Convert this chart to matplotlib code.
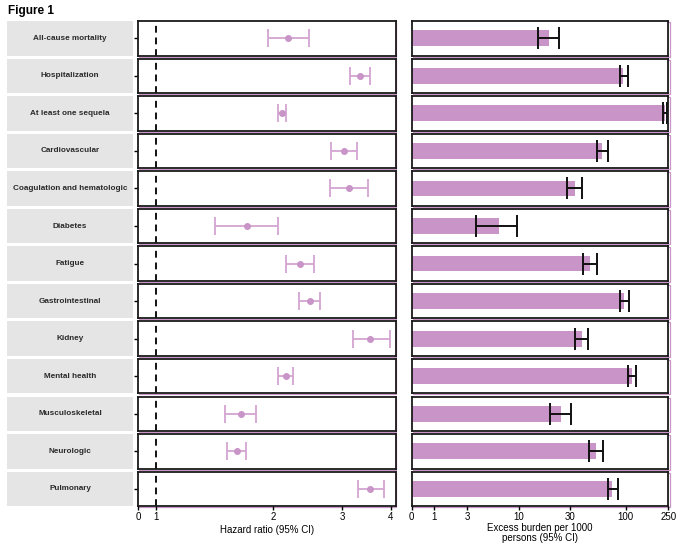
import numpy as np
import matplotlib
matplotlib.use("Agg")
import matplotlib.pyplot as plt
from matplotlib.patches import Rectangle

plt.rcParams['font.family'] = ['Liberation Sans', 'DejaVu Sans']

# Outcomes, top to bottom
outcomes = ["All-cause mortality", "Hospitalization", "At least one sequela", "Cardiovascular",
            "Coagulation and hematologic", "Diabetes", "Fatigue", "Gastrointestinal",
            "Kidney", "Mental health", "Musculoskeletal", "Neurologic", "Pulmonary"]

# Hazard ratios with 95% CI
hr = [2.18, 3.34, 2.11, 3.03, 3.13, 1.71, 2.34, 2.48, 3.55, 2.15, 1.65, 1.61, 3.55]
hr_low = [1.94, 3.14, 2.05, 2.82, 2.79, 1.42, 2.15, 2.33, 3.20, 2.05, 1.50, 1.52, 3.30]
hr_high = [2.47, 3.54, 2.16, 3.27, 3.50, 2.06, 2.54, 2.63, 3.98, 2.24, 1.80, 1.70, 3.85]

# Excess burden per 1000 persons with 95% CI
eb = [19.3, 95, 233, 60.4, 33.8, 6.35, 46.6, 96.8, 39.3, 115, 25, 53.1, 74.4]
eb_low = [15.0, 88, 225, 54.3, 28, 3.7, 39.8, 89, 33.8, 105.6, 19.7, 45.7, 67.7]
eb_high = [23.9, 105, 245, 68.7, 39, 9.5, 53.9, 108, 44.7, 125.5, 31, 61.7, 84.7]

hr_ticks = [0.9, 1, 2, 3, 4]
hr_ticklabels = ["0", "1", "2", "3", "4"]
eb_ticks = [0, 1, 3, 10, 30, 100, 250]
eb_ticklabels = ["0", "1", "3", "10", "30", "100", "250"]

purple = "#C994C7"
light_purple = "#D3A5D1"
W, H = 680, 548

fig = plt.figure(figsize=(W / 100, H / 100), dpi=100)


def box(x, y, w, h):
    # pixel box (top-left origin) -> figure fraction
    return [x / W, 1 - (y + h) / H, w / W, h / H]


fig.text(8 / W, 1 - 11 / H, "Figure 1", fontsize=8.5, fontweight='bold', va='center', ha='left')

# pseudo-log transform for excess burden axis
fwd = lambda x: np.arcsinh(np.asarray(x) / 2)
inv = lambda y: 2 * np.sinh(np.asarray(y))

row_top = 21
row_step = 37.55
row_h = 34.5

for i, name in enumerate(outcomes):
    top = row_top + i * row_step
    last = i == len(outcomes) - 1

    # label box
    lab = fig.add_axes(box(7, top, 126, row_h))
    lab.set_facecolor("#E5E5E5")
    lab.set_xticks([])
    lab.set_yticks([])
    for s in lab.spines.values():
        s.set_visible(False)
    lab.text(0.5, 0.5, name, ha='center', va='center', fontsize=5.9, fontweight='bold',
             color='#2a2a2a', transform=lab.transAxes)

    # thin purple edge peeking out below/right of each panel
    for px in (138.3, 411.7):
        fig.patches.append(Rectangle(((px + 1) / W, 1 - (top + row_h + 1) / H), 257 / W, row_h / H,
                                     transform=fig.transFigure, facecolor='white',
                                     edgecolor=purple, linewidth=0.9, zorder=-1))

    # hazard ratio panel
    ax = fig.add_axes(box(138.3, top, 257.7, row_h))
    ax.set_xscale('log')
    ax.set_xlim(0.9, 4.13)
    ax.set_ylim(-0.5, 0.5)
    ax.axvline(1, color='#111111', linestyle=(0, (3.5, 2.5)), linewidth=1.4)
    ax.errorbar(hr[i], 0, xerr=[[hr[i] - hr_low[i]], [hr_high[i] - hr[i]]], fmt='o',
                color=purple, ecolor=light_purple, elinewidth=1.3, capsize=6.5, capthick=1.3,
                markersize=4)
    ax.set_yticks([0])
    ax.set_yticklabels([])
    ax.tick_params(axis='y', length=3, width=1)
    ax.minorticks_off()
    for s in ax.spines.values():
        s.set_linewidth(1.3)
        s.set_color('#1a1a1a')
    if last:
        ax.set_xticks(hr_ticks)
        ax.set_xticklabels(hr_ticklabels, fontsize=7)
        ax.tick_params(axis='x', length=3, width=1, pad=1.5)
        ax.set_xlabel("Hazard ratio (95% CI)", fontsize=7, labelpad=2)
    else:
        ax.set_xticks([])

    # excess burden panel
    bx = fig.add_axes(box(411.7, top, 256.6, row_h))
    bx.set_xscale('function', functions=(fwd, inv))
    bx.set_xlim(0, 250)
    bx.set_ylim(-0.5, 0.5)
    bx.barh(0, eb[i], height=0.46, color=purple)
    bx.errorbar(eb[i], 0, xerr=[[eb[i] - eb_low[i]], [eb_high[i] - eb[i]]], fmt='none',
                ecolor='#111111', elinewidth=1.4, capsize=8, capthick=1.4)
    bx.set_yticks([])
    bx.minorticks_off()
    for s in bx.spines.values():
        s.set_linewidth(1.3)
        s.set_color('#1a1a1a')
    if last:
        bx.set_xticks(eb_ticks)
        bx.set_xticklabels(eb_ticklabels, fontsize=7)
        bx.tick_params(axis='x', length=3, width=1, pad=1.5)
        bx.set_xlabel("Excess burden per 1000\npersons (95% CI)", fontsize=7, labelpad=0.5,
                      linespacing=1.05)
    else:
        bx.set_xticks([])

fig.savefig("out.png", dpi=100)
